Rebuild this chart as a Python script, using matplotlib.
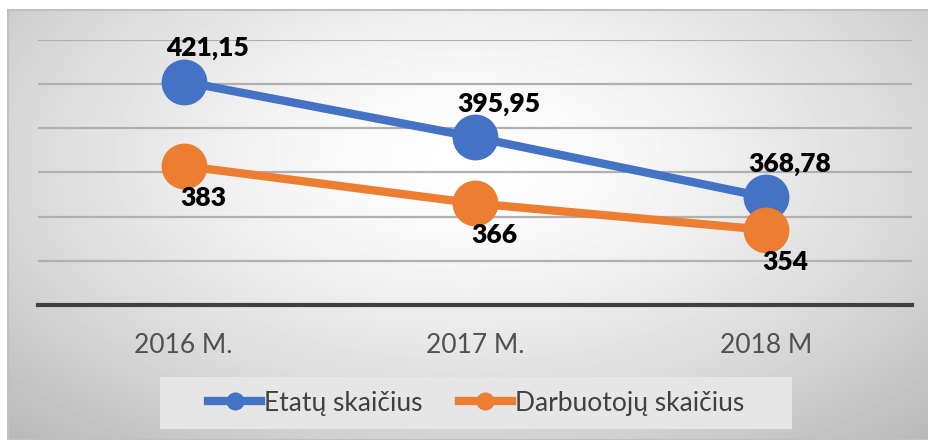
import numpy as np
import matplotlib.pyplot as plt
from matplotlib.patches import Rectangle
from matplotlib.lines import Line2D

years = ["2016 M.", "2017 M.", "2018 M"]
etatai = [421.15, 395.95, 368.78]
darbuotojai = [383, 366, 354]
etatai_labels = ["421,15", "395,95", "368,78"]
darbuotojai_labels = ["383", "366", "354"]

plt.rcParams["font.family"] = ["Lato", "DejaVu Sans"]

fig = plt.figure(figsize=(9.29, 4.4), dpi=100)
fig.patch.set_facecolor("white")

# radial grey background of the chart area
bg = fig.add_axes([8 / 929, 0, 1 - 8 / 929, 1 - 10 / 440], zorder=-5)
yy, xx = np.mgrid[0:1:300j, 0:1:600j]
r = np.sqrt(((xx - 0.5) / 0.7) ** 2 + ((yy - 0.65) / 0.85) ** 2)
img = 1.0 - 0.26 * np.clip(r, 0, 1.1) ** 1.5
bg.imshow(img, cmap="gray", vmin=0, vmax=1, aspect="auto", origin="lower",
          extent=[0, 1, 0, 1])
bg.set_axis_off()
fig.add_artist(Rectangle((8 / 929, 0), 1, 1 - 10 / 440, transform=fig.transFigure,
                         fill=False, edgecolor="#c0c0c0", lw=1.5))
# legend panel
fig.add_artist(Rectangle((160 / 929, 1 - 429 / 440), 632 / 929, 52 / 440,
                         transform=fig.transFigure, facecolor="#e6e6e6",
                         edgecolor="none", zorder=1))

ax = fig.add_axes([38 / 929, 1 - 305 / 440, 874 / 929, (305 - 40) / 440])
ax.patch.set_alpha(0)
x = np.arange(len(years))

ax.plot(x, etatai, color="#4472c4", lw=6, marker="o", ms=32, zorder=3,
        label="Etatų skaičius")
ax.plot(x, darbuotojai, color="#ed7d31", lw=6, marker="o", ms=32, zorder=4,
        label="Darbuotojų skaičius")

for xi, v, t in zip(x, etatai, etatai_labels):
    ax.annotate(t, (xi, v), xytext=(17, 24), textcoords="offset points",
                ha="center", va="center", fontsize=19, fontweight="heavy",
                color="black", zorder=6)
for xi, v, t in zip(x, darbuotojai, darbuotojai_labels):
    ax.annotate(t, (xi, v), xytext=(14, -23), textcoords="offset points",
                ha="center", va="center", fontsize=19, fontweight="heavy",
                color="black", zorder=6)

ax.set_xlim(-0.5, 2.5)
ax.set_ylim(320, 440)
ax.set_yticks(range(340, 441, 20))
ax.yaxis.grid(True, color="#b0b0b0", lw=1.6)
ax.tick_params(axis="y", length=0, labelleft=False)
ax.set_xticks(x)
ax.set_xticklabels(years, fontsize=19, color="#505050")
ax.tick_params(axis="x", length=0, pad=20)
for s in ["top", "right", "left"]:
    ax.spines[s].set_visible(False)
ax.spines["bottom"].set_color("#404040")
ax.spines["bottom"].set_linewidth(3)

handles = [Line2D([], [], color="#4472c4", lw=6, marker="o", ms=12),
           Line2D([], [], color="#ed7d31", lw=6, marker="o", ms=12)]
leg = fig.legend(handles, ["Etatų skaičius", "Darbuotojų skaičius"],
                 loc="center", bbox_to_anchor=(476 / 929, 1 - 403 / 440),
                 ncol=2, frameon=False, fontsize=19, handlelength=2.0,
                 handletextpad=0.1, columnspacing=1.4, borderpad=0.45,
                 borderaxespad=0, labelcolor="#404040")
leg.set_zorder(2)

fig.savefig("out.png", dpi=100)
